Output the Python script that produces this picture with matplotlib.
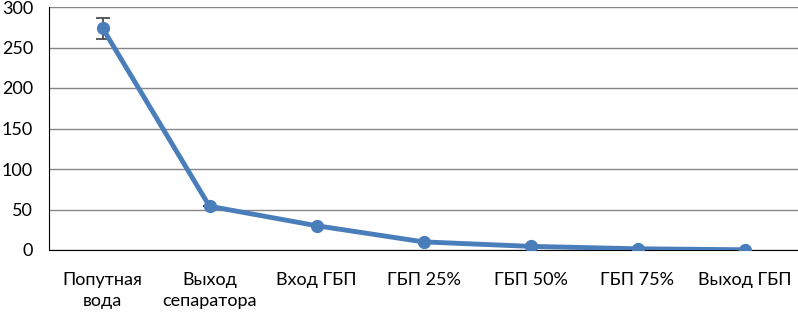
import matplotlib
matplotlib.use("Agg")
import matplotlib.pyplot as plt

categories = ["Попутная\nвода", "Выход\nсепаратора", "Вход ГБП", "ГБП 25%", "ГБП 50%", "ГБП 75%", "Выход ГБП"]
values = [274, 54, 30, 10, 4.5, 1.5, 0.3]
errors = [13, 0, 0, 0, 0, 0, 0]
yticks = [0, 50, 100, 150, 200, 250, 300]

plt.rcParams['font.family'] = ['Lato', 'DejaVu Sans']

fig = plt.figure(figsize=(7.98, 3.16), dpi=100)
ax = fig.add_axes([49/798, 1 - 250/316, 1 - 49/798, 243/316])

x = list(range(len(categories)))
color = "#4a7ebb"
ax.errorbar(x, values, yerr=errors, color=color, lw=3.5, marker='o', ms=8.5,
            ecolor="#404040", elinewidth=1.2, capsize=5, capthick=1.2, zorder=3)

ax.set_xlim(-0.5, len(categories) - 0.5)
ax.set_ylim(0, 300)
ax.set_yticks(yticks)
ax.set_yticklabels([str(v) for v in yticks])
ax.set_xticks(x)
ax.set_xticklabels(categories, linespacing=1.35)
ax.grid(axis='y', color='#868686', lw=1)
ax.set_axisbelow(True)
for s in ['top', 'right']:
    ax.spines[s].set_visible(False)
ax.spines['left'].set_color('black')
ax.spines['bottom'].set_color('black')
ax.tick_params(axis='both', length=0, labelsize=13)
ax.tick_params(axis='y', pad=11.5)
ax.tick_params(axis='x', pad=16)

fig.savefig("out.png", dpi=100)
